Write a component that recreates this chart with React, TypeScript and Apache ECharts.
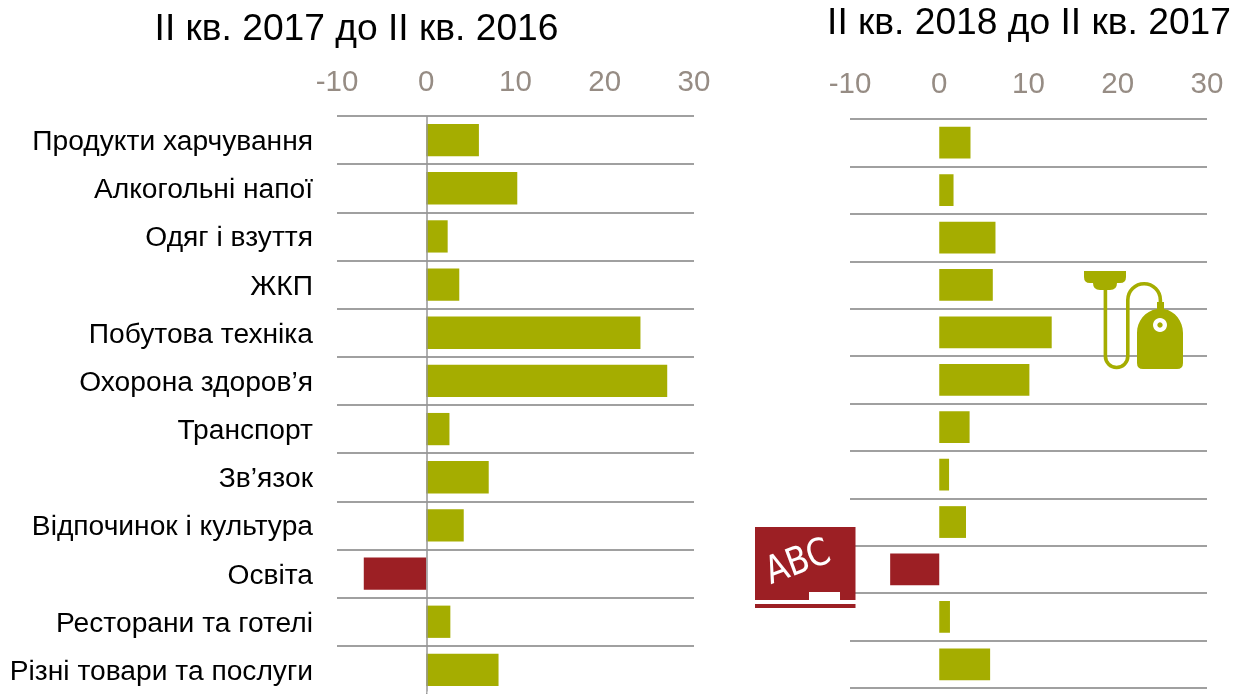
import React, { useEffect, useRef } from "react";
import * as echarts from "echarts";

const categories = ["Продукти харчування","Алкогольні напої","Одяг і взуття","ЖКП","Побутова техніка","Охорона здоров’я","Транспорт","Зв’язок","Відпочинок і культура","Освіта","Ресторани та готелі","Різні товари та послуги"];
const values2017 = [5.9,10.2,2.4,3.7,24.0,27.0,2.6,7.0,4.2,-7.0,2.7,8.1];
const values2018 = [3.5,1.6,6.3,6.0,12.6,10.1,3.4,1.1,3.0,-5.5,1.2,5.7];
const title2017 = "II кв. 2017 до II кв. 2016";
const title2018 = "II кв. 2018 до II кв. 2017";
const OLIVE = "#A5AD00";
const RED = "#9C1F24";
const FONT = '"Liberation Sans", Arial, sans-serif';

const MOUNT = "M1084 271H1126V277Q1126 283 1120 283H1117Q1117 290 1110 290H1100Q1093 290 1093 283H1090Q1084 283 1084 277Z";
const BODY = "M1157 309V302H1164V309C1175 311 1183 321 1183 333V363Q1183 369 1177 369H1143Q1137 369 1137 363V333C1137 321 1145 311 1157 309Z";
const TUBE = "M1105.4 288V356.3A11.2 11.2 0 0 0 1127.8 356.3V300A16.3 16.3 0 0 1 1160.4 300V305";
echarts.graphic.registerShape("mount", echarts.graphic.extendPath(MOUNT, {}));
echarts.graphic.registerShape("body", echarts.graphic.extendPath(BODY, {}));
echarts.graphic.registerShape("tube", echarts.graphic.extendPath(TUBE, {}));

const bars = (vals: number[], idx: number, zero: boolean) => ({
  type: "bar", xAxisIndex: idx, yAxisIndex: idx, barCategoryGap: "33%",
  data: vals.map((v) => ({ value: v, itemStyle: { color: v < 0 ? RED : OLIVE } })),
  ...(zero ? { markLine: { silent: true, symbol: "none", label: { show: false }, lineStyle: { color: "#969696", width: 1.5, type: "solid" }, data: [{ xAxis: 0 }] } } : {}),
});
const xAxis = (idx: number, margin: number) => ({
  type: "value", gridIndex: idx, position: "top", min: -10, max: 30, interval: 10,
  axisLine: { show: false }, axisTick: { show: false }, splitLine: { show: false },
  axisLabel: { color: "#968C84", fontSize: 29.5, fontFamily: FONT, margin },
});
const yAxis = (idx: number, labels: boolean) => ({
  type: "category", gridIndex: idx, inverse: true, data: categories,
  axisLine: { show: false }, axisTick: { show: false },
  splitLine: { show: true, lineStyle: { color: "#808080", width: 1.5 } },
  axisLabel: { show: labels, color: "#000", fontSize: 28.2, fontFamily: FONT, margin: 24, interval: 0 },
});
const titleText = (t: string, x: number, y: number) => ({ type: "text", x, y, style: { text: t, fontSize: 37.2, fontFamily: FONT, fill: "#000", textAlign: "center", textVerticalAlign: "middle" } });

export default function App() {
  const ref = useRef<HTMLDivElement>(null);
  useEffect(() => {
    const chart = echarts.init(ref.current!, null, { renderer: "svg" });
    chart.setOption({
      animation: false,
      grid: [
        { left: 337, top: 116, width: 357, height: 579, containLabel: false },
        { left: 850, top: 119, width: 357, height: 569, containLabel: false },
      ],
      xAxis: [xAxis(0, 20.5), xAxis(1, 21.5)],
      yAxis: [yAxis(0, true), yAxis(1, false)],
      series: [bars(values2017, 0, true), bars(values2018, 1, false)],
      graphic: [
        titleText(title2017, 356.5, 27),
        titleText(title2018, 1029, 21),
        { type: "rect", z: 10, shape: { x: 335, y: 691.5, width: 91, height: 3 }, style: { fill: "#fff" } },
        { type: "rect", z: 10, shape: { x: 427.5, y: 691.5, width: 270, height: 3 }, style: { fill: "#fff" } },
        { type: "tube", z: 10, style: { fill: "none", stroke: OLIVE, lineWidth: 3.6 } },
        { type: "mount", z: 11, style: { fill: OLIVE } },
        { type: "body", z: 11, style: { fill: OLIVE } },
        { type: "circle", z: 12, shape: { cx: 1160, cy: 325, r: 7 }, style: { fill: "#fff" } },
        { type: "circle", z: 13, shape: { cx: 1160, cy: 325, r: 2.7 }, style: { fill: OLIVE } },
        { type: "rect", z: 10, shape: { x: 755, y: 527, width: 100, height: 81 }, style: { fill: "#fff" } },
        { type: "rect", z: 11, shape: { x: 755, y: 527, width: 100.5, height: 73 }, style: { fill: RED } },
        { type: "rect", z: 12, shape: { x: 809, y: 592, width: 31, height: 8 }, style: { fill: "#fff" } },
        { type: "rect", z: 11, shape: { x: 755, y: 604, width: 100.5, height: 4 }, style: { fill: RED } },
        { type: "text", z: 13, x: 797, y: 560, rotation: 0.36, scaleX: 0.85, style: { text: "ABC", fontSize: 38, fontFamily: '"DejaVu Sans", sans-serif', fill: "#fff", textAlign: "center", textVerticalAlign: "middle" } },
      ],
    });
    return () => chart.dispose();
  }, []);
  return <div ref={ref} style={{ position: "fixed", left: 0, top: 0, width: 1234, height: 694 }} />;
}
